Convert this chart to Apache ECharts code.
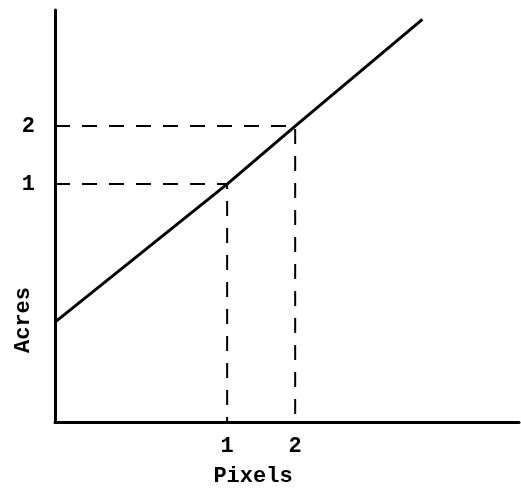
<!DOCTYPE html>
<html>
<head>
<meta charset="utf-8">
<script src="https://cdn.jsdelivr.net/npm/echarts@6/dist/echarts.min.js"></script>
<style>
  html, body { margin: 0; padding: 0; background: #fff; }
  #chart { width: 521px; height: 501px; }
</style>
</head>
<body>
<div id="chart"></div>
<script>
// Acres vs pixels calibration line

var xTicks = [1, 2];
var yTicks = [1, 2];

// main line
var calibLine = [[-1.53, -1.38], [1, 1], [2, 2], [3.87, 3.84]];

// dashed guides: from the y axis to the line, then down to the x axis
var guideOne = [[-1.53, 1], [1, 1], [1, -3.1]];
var guideTwo = [[-1.53, 2], [2, 2], [2, -3.1]];

var xMin = -1.53, xMax = 5.29;
var yMin = -3.1, yMax = 4.0;

var font = 'Liberation Mono';
var ink = '#000';

var myChart = echarts.init(document.getElementById('chart'), null, { renderer: 'canvas' });

function guide(data) {
    return {
        type: 'line',
        data: data,
        symbol: 'none',
        silent: true,
        lineStyle: { color: ink, width: 2, type: [15, 12] }
    };
}

var option = {
    animation: false,
    backgroundColor: '#fff',
    grid: {
        left: 55,
        right: 2,
        top: 10,
        bottom: 79,
        outerBoundsMode: 'none'
    },
    xAxis: {
        type: 'value',
        min: xMin,
        max: xMax,
        name: 'Pixels',
        nameLocation: 'middle',
        nameGap: 43,
        nameMoveOverlap: false,
        nameTextStyle: {
            fontFamily: font, fontWeight: 'bold', fontSize: 22, color: ink,
            padding: [0, 68, 0, 0]
        },
        axisLine: { onZero: false, lineStyle: { color: ink, width: 3 } },
        axisTick: { show: false },
        splitLine: { show: false },
        axisLabel: {
            customValues: xTicks,
            margin: 13,
            fontFamily: font, fontWeight: 'bold', fontSize: 22, color: ink
        }
    },
    yAxis: {
        type: 'value',
        min: yMin,
        max: yMax,
        name: 'Acres',
        nameLocation: 'middle',
        nameGap: 21,
        nameMoveOverlap: false,
        nameTextStyle: {
            fontFamily: font, fontWeight: 'bold', fontSize: 22, color: ink,
            padding: [0, 208, 0, 0]
        },
        axisLine: { onZero: false, lineStyle: { color: ink, width: 3 } },
        axisTick: { show: false },
        splitLine: { show: false },
        axisLabel: {
            customValues: yTicks,
            margin: 20,
            fontFamily: font, fontWeight: 'bold', fontSize: 22, color: ink
        }
    },
    series: [
        guide(guideOne),
        guide(guideTwo),
        {
            type: 'line',
            data: calibLine,
            symbol: 'none',
            lineStyle: { color: ink, width: 3 }
        }
    ]
};

myChart.setOption(option);

window.addEventListener('resize', myChart.resize);
</script>
</body>
</html>
